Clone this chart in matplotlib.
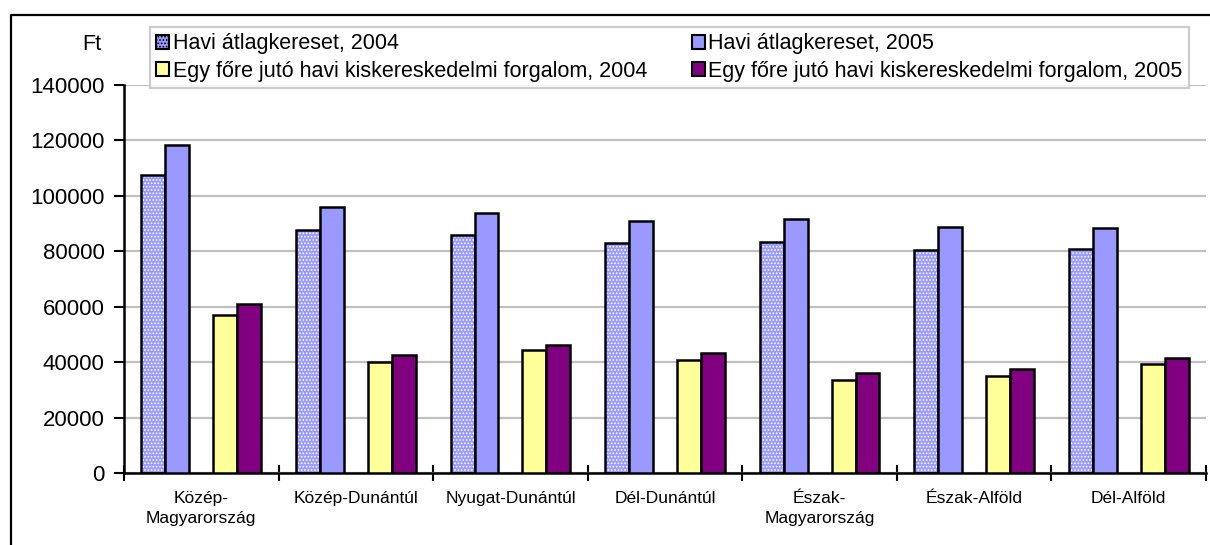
import matplotlib.pyplot as plt
import numpy as np
from matplotlib.lines import Line2D
from matplotlib.patches import Patch

plt.rcParams['font.family'] = ['Liberation Sans', 'DejaVu Sans']
plt.rcParams['hatch.linewidth'] = 0.8

# ---------------------------------------
# Data
# ---------------------------------------
regions = ["Közép-\nMagyarország", "Közép-Dunántúl", "Nyugat-Dunántúl",
           "Dél-Dunántúl", "Észak-\nMagyarország", "Észak-Alföld", "Dél-Alföld"]
wage_2004 = [107600, 87600, 85800, 82900, 83400, 80400, 81000]
wage_2005 = [118300, 96000, 93700, 90900, 91800, 88800, 88400]
retail_2004 = [57100, 40100, 44300, 40800, 33600, 34900, 39200]
retail_2005 = [61000, 42700, 46300, 43200, 36100, 37500, 41400]

labels = ["Havi átlagkereset, 2004", "Havi átlagkereset, 2005",
          "Egy főre jutó havi kiskereskedelmi forgalom, 2004",
          "Egy főre jutó havi kiskereskedelmi forgalom, 2005"]

# ---------------------------------------
# Plot setup
# ---------------------------------------
fig = plt.figure(figsize=(12.1, 5.45), dpi=100)
ax = fig.add_axes([0.1025, 0.1321, 0.8942, 0.7119])

x = np.arange(len(regions))
w = 0.155
offs = [-2 * w, -w, w, 2 * w]  # middle slot is empty (Excel style)
edge = dict(edgecolor='black', linewidth=1.8, zorder=3)

# 2004 wage: dotted pattern, drawn twice so the hatch stays white and edges black
ax.bar(x + offs[0], wage_2004, w, color='#9999FF', hatch='.....',
       edgecolor='white', linewidth=0, zorder=2)
ax.bar(x + offs[0], wage_2004, w, fill=False, **edge)
ax.bar(x + offs[1], wage_2005, w, color='#9999FF', **edge)
ax.bar(x + offs[2], retail_2004, w, color='#FFFF99', **edge)
ax.bar(x + offs[3], retail_2005, w, color='#800080', **edge)

ax.set_xlim(-0.5, len(regions) - 0.5)
ax.set_ylim(0, 140000)
ax.set_yticks(np.arange(0, 140001, 20000))
ax.yaxis.grid(True, color='#C0C0C0', linewidth=1.6, zorder=0)
ax.set_axisbelow(True)
ax.tick_params(axis='y', labelsize=16, length=7, width=1.5, pad=7)

ax.set_xticks(x)
ax.set_xticklabels(regions, fontsize=12.5, linespacing=1.45)
ax.tick_params(axis='x', length=0, pad=13)
ax.set_xticks(np.arange(-0.5, len(regions) + 0.5, 1), minor=True)
ax.tick_params(axis='x', which='minor', direction='inout', length=11, width=1.5)

for s in ["top", "right"]:
    ax.spines[s].set_visible(False)
for s in ["left", "bottom"]:
    ax.spines[s].set_linewidth(1.8)

# Unit label
fig.text(92 / 1210, 1 - 45 / 545, "Ft", fontsize=15.5, ha='center', va='center')

# Legend (row-wise order like the original)
handles = [
    Patch(facecolor='#9999FF', hatch='.....', edgecolor='black', linewidth=1.5),
    Patch(facecolor='#9999FF', edgecolor='black', linewidth=1.5),
    Patch(facecolor='#FFFF99', edgecolor='black', linewidth=1.5),
    Patch(facecolor='#800080', edgecolor='black', linewidth=1.5),
]
order = [0, 2, 1, 3]
leg = fig.legend([handles[i] for i in order], [labels[i] for i in order],
                 ncol=2, loc='upper left', bbox_to_anchor=(150 / 1210, 1 - 27 / 545),
                 fontsize=15.5, frameon=True, fancybox=False,
                 handlelength=0.6, handleheight=0.6, handletextpad=0.15,
                 columnspacing=2.1, labelspacing=0.3, borderpad=0.3,
                 borderaxespad=0)
leg.get_frame().set_edgecolor('#C0C0C0')
leg.get_frame().set_linewidth(1.6)
leg.set_zorder(5)

# Outer frame (left and top edges visible)
fig.add_artist(Line2D([11 / 1210, 11 / 1210, 1], [0, 1 - 15 / 545, 1 - 15 / 545],
                      transform=fig.transFigure, color='black', linewidth=1.6))

plt.savefig("out.png", dpi=100)
